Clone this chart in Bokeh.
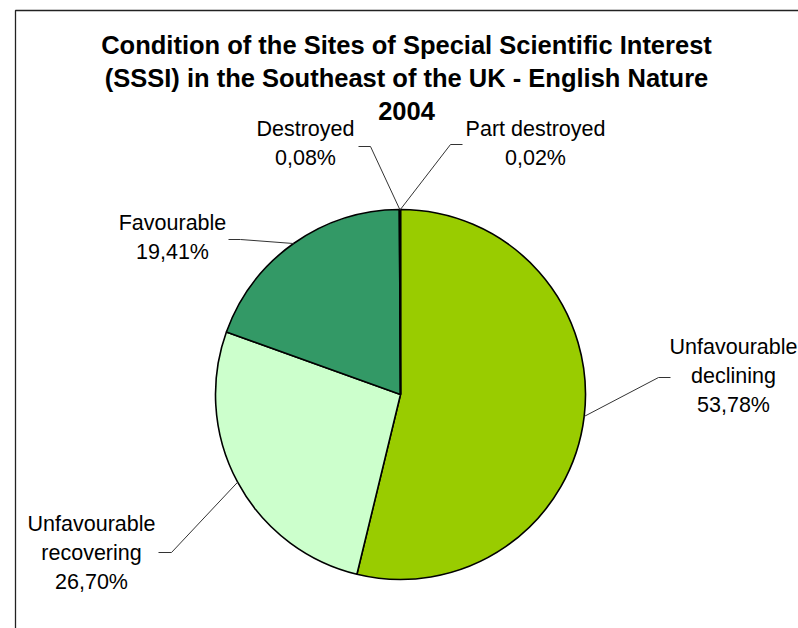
import math
from bokeh.plotting import figure
from bokeh.models import Range1d
from bokeh.core.properties import value
from bokeh.embed import file_html
from bokeh.resources import INLINE

# ---- data ----
categories = ["Unfavourable declining", "Unfavourable recovering", "Favourable",
              "Destroyed", "Part destroyed"]
label_lines = [["Unfavourable", "declining"], ["Unfavourable", "recovering"],
               ["Favourable"], ["Destroyed"], ["Part destroyed"]]
percent = [53.78, 26.70, 19.41, 0.08, 0.02]
percent_text = ["53,78%", "26,70%", "19,41%", "0,08%", "0,02%"]
colors = ["#99CC00", "#CCFFCC", "#339966", "#FFFF99", "#993366"]
title_lines = ["Condition of the Sites of Special Scientific Interest",
               "(SSSI) in the Southeast of the UK - English Nature",
               "2004"]

# ---- layout (screen pixels) ----
W, H = 798, 628
def X(sx): return sx
def Y(sy): return H - sy

cx_s, cy_s, R = 400, 394, 185
label_layout = [
    dict(x=733, y=346, elbow=(658, 377), end=(670, 377)),
    dict(x=91, y=523, elbow=(171, 552), end=(158, 552)),
    dict(x=172, y=222, elbow=(240, 239), end=(228, 239)),
    dict(x=305, y=128, elbow=(370, 146), end=(358, 146)),
    dict(x=535, y=128, elbow=(450, 144), end=(462, 144)),
]
LINE_STEP = 29
FONT = "Liberation Sans"

p = figure(width=W, height=H, output_backend="svg", toolbar_location=None,
           x_range=Range1d(0, W), y_range=Range1d(0, H),
           x_axis_location=None, y_axis_location=None,
           min_border=0, outline_line_color=None)
p.grid.visible = False
p.background_fill_color = "white"
p.border_fill_color = "white"

# chart frame (extends past right/bottom edge)
p.line(x=[X(15), X(15), X(900)], y=[Y(900), Y(10), Y(10)],
       line_color="#222222", line_width=1.3)

# wedges
total = sum(percent)
cum = 0.0
starts, ends, mids = [], [], []
for v in percent:
    a = cum / total
    b = (cum + v) / total
    starts.append(math.pi / 2 - 2 * math.pi * b)
    ends.append(math.pi / 2 - 2 * math.pi * a)
    mids.append(math.pi / 2 - 2 * math.pi * (a + b) / 2)
    cum += v

p.wedge(x=X(cx_s), y=Y(cy_s), radius=R, start_angle=starts, end_angle=ends,
        fill_color=colors, line_color="black", line_width=1.6)

# leader lines and labels
for i in range(len(categories)):
    lay = label_layout[i]
    ex = X(cx_s) + R * math.cos(mids[i])
    ey = Y(cy_s) + R * math.sin(mids[i])
    p.line(x=[ex, X(lay["elbow"][0]), X(lay["end"][0])],
           y=[ey, Y(lay["elbow"][1]), Y(lay["end"][1])],
           line_color="#333333", line_width=1)
    lines = label_lines[i] + [percent_text[i]]
    for k, t in enumerate(lines):
        p.text(x=[X(lay["x"])], y=[Y(lay["y"] + k * LINE_STEP)], text=[t],
               text_font=value(FONT), text_font_size="21.5px",
               text_color="black", text_align="center", text_baseline="middle")

# title
title_y = [44, 77, 110]
for t, ty in zip(title_lines, title_y):
    p.text(x=[X(406)], y=[Y(ty)], text=[t], text_font=value(FONT),
           text_font_size="25.5px", text_font_style="bold", text_color="black",
           text_align="center", text_baseline="middle")

open("out.html", "w").write(file_html(p, INLINE))
